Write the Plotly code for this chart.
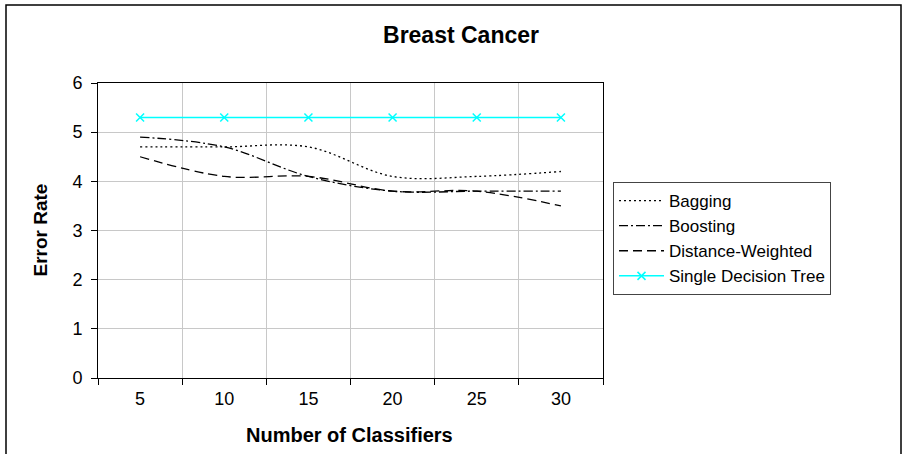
import plotly.graph_objects as go

categories = ["5", "10", "15", "20", "25", "30"]
bagging = [4.7, 4.7, 4.7, 4.1, 4.1, 4.2]
boosting = [4.9, 4.7, 4.1, 3.8, 3.8, 3.8]
distance_weighted = [4.5, 4.1, 4.1, 3.8, 3.8, 3.5]
single_tree = [5.3, 5.3, 5.3, 5.3, 5.3, 5.3]

W, H = 906, 454
L, R, T, B = 98, 603, 83, 378  # plot area pixels


def px(x):
    return (x - L) / (R - L)


def py(y):
    return (B - y) / (B - T)


FONT = "Arial, Liberation Sans, Helvetica, sans-serif"

fig = go.Figure()
fig.add_trace(go.Scatter(x=categories, y=bagging, name="Bagging", mode="lines",
                         line=dict(color="black", width=1.3, dash="2px,3px", shape="spline")))
fig.add_trace(go.Scatter(x=categories, y=boosting, name="Boosting", mode="lines",
                         line=dict(color="black", width=1.3, dash="9px,3px,2px,3px", shape="spline")))
fig.add_trace(go.Scatter(x=categories, y=distance_weighted, name="Distance-Weighted", mode="lines",
                         line=dict(color="black", width=1.3, dash="9px,5px", shape="spline")))
fig.add_trace(go.Scatter(x=categories, y=single_tree, name="Single Decision Tree", mode="lines+markers",
                         line=dict(color="#00FFFF", width=1.5),
                         marker=dict(symbol="x-thin", size=8, color="#00FFFF",
                                     line=dict(color="#00FFFF", width=1.5))))

fig.update_layout(
    width=W, height=H, autosize=False,
    margin=dict(l=L, r=W - R, t=T, b=H - B, pad=0),
    paper_bgcolor="white", plot_bgcolor="white",
    font=dict(family=FONT, color="black", size=18),
    title=dict(text="<b>Breast Cancer</b>", x=461 / W, xref="container", xanchor="center",
               y=1 - 35 / H, yref="container", yanchor="middle",
               font=dict(family=FONT, size=23, color="black")),
    showlegend=True,
    legend=dict(x=px(613), y=py(182), xanchor="left", yanchor="top",
                bgcolor="white", bordercolor="#444", borderwidth=1,
                font=dict(family=FONT, size=17, color="black"),
                itemwidth=45, tracegroupgap=0),
    xaxis=dict(type="category", range=[-0.5, 5.5], tickson="boundaries",
               showgrid=True, gridcolor="#c8c8c8", gridwidth=1,
               showline=True, linecolor="black", linewidth=1, mirror=True,
               ticks="outside", ticklen=6, tickcolor="black", ticklabelstandoff=4,
               tickfont=dict(family=FONT, size=18, color="black"), zeroline=False),
    yaxis=dict(range=[0, 6], dtick=1, tick0=0, showgrid=True, gridcolor="#c8c8c8", gridwidth=1,
               showline=True, linecolor="black", linewidth=1, mirror=True,
               ticks="outside", ticklen=6, tickcolor="black", ticklabelstandoff=5,
               tickfont=dict(family=FONT, size=18, color="black"), zeroline=False),
    annotations=[
        dict(text="<b>Number of Classifiers</b>", xref="paper", yref="paper",
             x=px(349), y=py(435), xanchor="center", yanchor="middle", showarrow=False,
             font=dict(family=FONT, size=20, color="black")),
        dict(text="<b>Error Rate</b>", xref="paper", yref="paper",
             x=px(40), y=0.5, xanchor="center", yanchor="middle", showarrow=False, textangle=-90,
             font=dict(family=FONT, size=19, color="black")),
    ],
    shapes=[
        dict(type="rect", xref="paper", yref="paper", x0=px(6), x1=px(901), y0=py(470), y1=py(5),
             line=dict(color="black", width=1.5), fillcolor="rgba(0,0,0,0)", layer="below"),
    ],
)

fig.write_html("out.html")
